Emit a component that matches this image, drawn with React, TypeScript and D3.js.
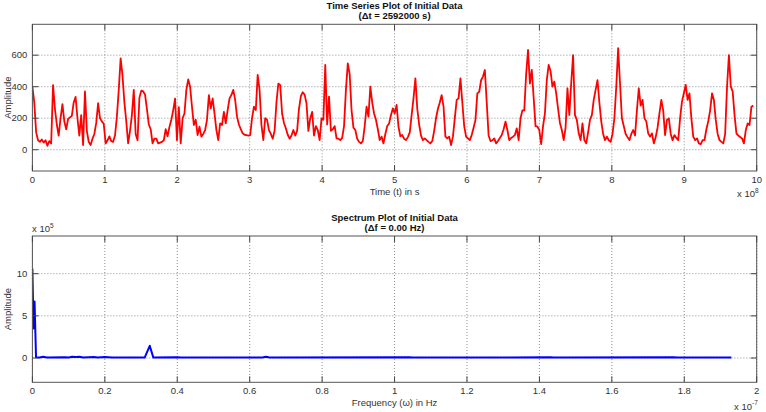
import React, { useEffect, useRef } from 'react';
import * as d3 from 'd3';

// sampling step (s) and monthly amplitude readings
const DT = 2592000;
const amplitude = [
  400, 300, 110, 60, 50, 65, 45, 60, 25, 55, 40, 410,
  260, 160, 90, 200, 290, 180, 130, 195, 205, 215, 300, 335,
  200, 90, 220, 30, 370, 120, 50, 30, 70, 100, 170, 295,
  200, 180, 165, 40, 60, 85, 55, 50, 90, 210, 380, 580,
  470, 300, 180, 40, 120, 220, 380, 100, 60, 330, 375, 370,
  350, 260, 160, 130, 40, 70, 70, 40, 45, 50, 60, 130,
  85, 145, 190, 250, 325, 60, 270, 40, 200, 230, 380, 447,
  400, 273, 157, 190, 93, 146, 83, 100, 125, 190, 347, 263,
  326, 231, 125, 61, 167, 157, 240, 167, 252, 326, 347, 380,
  316, 210, 160, 130, 104, 95, 93, 90, 93, 200, 273, 252,
  475, 380, 157, 61, 200, 189, 125, 100, 70, 120, 300, 420,
  410, 230, 170, 136, 95, 70, 90, 125, 90, 120, 260, 340,
  365, 350, 294, 120, 200, 240, 90, 150, 125, 61, 199, 190,
  538, 160, 337, 120, 130, 150, 72, 70, 61, 75, 150, 380,
  548, 480, 250, 140, 125, 70, 50, 40, 55, 150, 273, 210,
  400, 300, 230, 190, 130, 61, 83, 40, 100, 150, 167, 220,
  262, 231, 284, 146, 85, 93, 70, 61, 80, 110, 220, 326,
  453, 260, 160, 90, 61, 72, 61, 50, 40, 55, 120, 200,
  260, 300, 347, 273, 83, 72, 83, 30, 83, 200, 316, 326,
  453, 300, 150, 83, 72, 61, 93, 140, 189, 358, 368, 441,
  464, 506, 300, 90, 55, 60, 72, 40, 55, 75, 93, 130,
  178, 125, 61, 75, 83, 93, 136, 61, 200, 250, 250, 480,
  633, 420, 506, 330, 150, 146, 125, 35, 150, 230, 443, 538,
  500, 400, 432, 358, 260, 170, 125, 61, 140, 390, 220, 422,
  601, 220, 189, 104, 61, 167, 61, 40, 110, 190, 220, 316,
  380, 442, 300, 180, 100, 61, 83, 60, 51, 100, 200, 400,
  644, 420, 200, 150, 100, 80, 61, 100, 125, 90, 250, 390,
  280, 316, 200, 180, 104, 83, 104, 40, 80, 140, 230, 316,
  250, 93, 189, 199, 100, 61, 93, 75, 61, 200, 305, 358,
  411, 316, 358, 200, 83, 61, 72, 40, 35, 61, 61, 130,
  180, 250, 358, 316, 189, 100, 61, 50, 40, 100, 400, 601,
  400, 370, 220, 104, 90, 80, 72, 40, 125, 167, 157, 273, 280,
];
const timeTicks = [0, 1, 2, 3, 4, 5, 6, 7, 8, 9, 10];
const ampTicks = [0, 200, 400, 600];

// spectrum: frequency (x 1e-7 Hz) and amplitude (x 1e5)
const specFreq = [
  0, 0.003, 0.006, 0.01, 0.02, 0.03, 0.04, 0.09, 0.1, 0.11, 0.12, 0.13, 0.14,
  0.17, 0.18, 0.2, 0.21, 0.22, 0.31, 0.324, 0.334, 0.4, 0.41, 0.635, 0.645,
  0.655, 1.04, 1.05, 1.43, 1.44, 1.77, 1.78, 1.93,
];
const specAmp = [
  10.6, 3.5, 6.7, 0.1, 0.05, 0.15, 0.05, 0.1, 0.05, 0.15, 0.12, 0.15, 0.05,
  0.12, 0.05, 0.12, 0.1, 0.05, 0.05, 1.45, 0.05, 0.1, 0.05, 0.05, 0.15,
  0.05, 0.08, 0.05, 0.08, 0.05, 0.08, 0.05, 0.05,
];
const freqTicks = [0, 0.2, 0.4, 0.6, 0.8, 1, 1.2, 1.4, 1.6, 1.8, 2];
const specTicks = [0, 5, 10];

const W = 766;
const H = 412;
const FONT = '"Liberation Sans", Arial, sans-serif';

const drawPanel = (svg, opt) => {
  const { left, right, top, bottom, id } = opt;
  const x = d3.scaleLinear().domain(opt.xDomain).range([left, right]);
  const y = d3.scaleLinear().domain(opt.yDomain).range([bottom, top]);
  const tick = 6;

  svg
    .append('clipPath')
    .attr('id', id)
    .append('rect')
    .attr('x', left)
    .attr('y', top)
    .attr('width', right - left)
    .attr('height', bottom - top);

  const grid = svg.append('g').attr('stroke', '#8c8c8c').attr('stroke-dasharray', '1,2');
  opt.xTicks.forEach((t) => {
    grid.append('line').attr('x1', x(t)).attr('x2', x(t)).attr('y1', top).attr('y2', bottom);
  });
  opt.yTicks.forEach((t) => {
    grid.append('line').attr('x1', left).attr('x2', right).attr('y1', y(t)).attr('y2', y(t));
  });

  // data line
  svg
    .append('path')
    .datum(opt.data)
    .attr('clip-path', `url(#${id})`)
    .attr('fill', 'none')
    .attr('stroke', opt.color)
    .attr('stroke-width', opt.width)
    .attr('stroke-linejoin', 'round')
    .attr(
      'd',
      d3
        .line()
        .x((d) => x(d[0]))
        .y((d) => y(d[1]))
    );

  // box + inner ticks
  svg
    .append('rect')
    .attr('x', left)
    .attr('y', top)
    .attr('width', right - left)
    .attr('height', bottom - top)
    .attr('fill', 'none')
    .attr('stroke', '#555');
  const ticks = svg.append('g').attr('stroke', '#444');
  opt.xTicks.forEach((t) => {
    ticks.append('line').attr('x1', x(t)).attr('x2', x(t)).attr('y1', bottom).attr('y2', bottom - tick);
    ticks.append('line').attr('x1', x(t)).attr('x2', x(t)).attr('y1', top).attr('y2', top + tick);
  });
  opt.yTicks.forEach((t) => {
    ticks.append('line').attr('x1', left).attr('x2', left + tick).attr('y1', y(t)).attr('y2', y(t));
    ticks.append('line').attr('x1', right).attr('x2', right - tick).attr('y1', y(t)).attr('y2', y(t));
  });

  const labels = svg.append('g').attr('font-family', FONT).attr('font-size', 9.5).attr('fill', '#333');
  opt.xTicks.forEach((t) => {
    labels
      .append('text')
      .attr('x', x(t))
      .attr('y', bottom + 12)
      .attr('text-anchor', 'middle')
      .text(String(t));
  });
  opt.yTicks.forEach((t) => {
    labels
      .append('text')
      .attr('x', left - 5)
      .attr('y', y(t) + 3)
      .attr('text-anchor', 'end')
      .text(String(t));
  });

  labels
    .append('text')
    .attr('transform', `translate(11,${(top + bottom) / 2}) rotate(-90)`)
    .attr('text-anchor', 'middle')
    .text('Amplitude');
  labels
    .append('text')
    .attr('x', (left + right) / 2)
    .attr('y', bottom + 24)
    .attr('text-anchor', 'middle')
    .text(opt.xLabel);

  const title = svg
    .append('g')
    .attr('font-family', FONT)
    .attr('font-size', 9.5)
    .attr('font-weight', 'bold')
    .attr('fill', '#111')
    .attr('text-anchor', 'middle');
  title.append('text').attr('x', (left + right) / 2).attr('y', top - 15).text(opt.title);
  title.append('text').attr('x', (left + right) / 2).attr('y', top - 5).text(opt.subtitle);
  return { x, y, labels };
};

const App = () => {
  const ref = useRef(null);

  useEffect(() => {
    const svg = d3.select(ref.current);
    svg.selectAll('*').remove();

    const timeData = amplitude.map((v, i) => [(i * DT) / 1e8, v]);
    const specData = specFreq.map((f, i) => [f, specAmp[i]]);

    const top = drawPanel(svg, {
      id: 'clipTop',
      left: 32.4,
      right: 756.7,
      top: 24.3,
      bottom: 171,
      xDomain: [0, 10],
      yDomain: [-135, 796],
      xTicks: timeTicks,
      yTicks: ampTicks,
      data: timeData,
      color: '#ff0000',
      width: 1.8,
      xLabel: 'Time (t) in s',
      title: 'Time Series Plot of Initial Data',
      subtitle: '(\u0394t = 2592000 s)',
    });
    const exp8 = top.labels.append('text').attr('x', 737).attr('y', 197);
    exp8.append('tspan').text('x 10');
    exp8.append('tspan').attr('dy', -4).attr('font-size', 6.5).text('8');

    const bot = drawPanel(svg, {
      id: 'clipBot',
      left: 32.4,
      right: 756.7,
      top: 236,
      bottom: 382.3,
      xDomain: [0, 2],
      yDomain: [-2.88, 14.47],
      xTicks: freqTicks,
      yTicks: specTicks,
      data: specData,
      color: '#0000ff',
      width: 2,
      xLabel: 'Frequency (\u03c9) in Hz',
      title: 'Spectrum Plot of Initial Data',
      subtitle: '(\u0394f = 0.00 Hz)',
    });
    const exp5 = bot.labels.append('text').attr('x', 32).attr('y', 232);
    exp5.append('tspan').text('x 10');
    exp5.append('tspan').attr('dy', -4).attr('font-size', 6.5).text('5');
    const exp7 = bot.labels.append('text').attr('x', 734).attr('y', 410);
    exp7.append('tspan').text('x 10');
    exp7.append('tspan').attr('dy', -5).attr('font-size', 6.5).text('-7');
  }, []);

  return (
    <svg
      ref={ref}
      width={W}
      height={H}
      style={{ position: 'absolute', left: 0, top: 0, background: '#fff' }}
    />
  );
};

export default App;
